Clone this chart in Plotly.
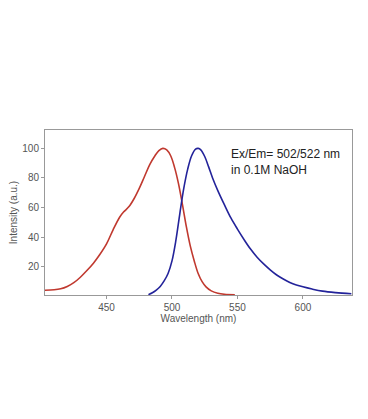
import plotly.graph_objects as go

ex_wl = [403, 410, 415, 420, 425, 430, 435, 440, 445, 450, 455, 460, 463, 467, 471, 475, 479, 483, 487, 490, 493, 496, 499, 502, 505, 508, 511, 514, 517, 520, 523, 526, 530, 535, 540, 548]
ex_int = [4.2, 4.5, 5.2, 6.8, 9.3, 13, 17.5, 22.5, 28.5, 35.5, 45, 53.5, 57, 60.5, 66, 73, 81, 89, 95, 98.5, 100, 99, 95, 87, 76, 62, 47, 34, 24, 15.5, 10, 6.5, 3.8, 2.2, 1.5, 1.2]

em_wl = [482, 485, 488, 491, 494, 497, 500, 503, 506, 509, 512, 515, 518, 520, 522, 525, 528, 531, 535, 540, 545, 550, 555, 560, 565, 570, 575, 580, 585, 590, 595, 600, 607, 615, 625, 637]
em_int = [1.2, 2.5, 4.3, 6.8, 10.5, 15.5, 24, 38, 56, 73, 86, 95, 99.5, 100, 99, 94.5, 87.5, 80, 71.5, 62, 53, 45.5, 38.5, 32, 26.5, 22, 18, 14.5, 11.8, 9.5, 7.8, 6.5, 5, 3.6, 2.6, 1.8]

x_ticks = [450, 500, 550, 600]
y_ticks = [20, 40, 60, 80, 100]

FONT = "Arial, Liberation Sans, sans-serif"

fig = go.Figure()
fig.add_trace(go.Scatter(x=ex_wl, y=ex_int, mode="lines",
                         line=dict(color="#c0392f", width=1.6, shape="spline", smoothing=1.0), showlegend=False))
fig.add_trace(go.Scatter(x=em_wl, y=em_int, mode="lines",
                         line=dict(color="#23239a", width=1.6, shape="spline", smoothing=1.0), showlegend=False))

fig.add_annotation(x=0.6, y=0.91, xref="paper", yref="paper", xanchor="left", yanchor="top",
                   text="Ex/Em= 502/522 nm<br>in 0.1M NaOH", showarrow=False, align="left",
                   font=dict(family=FONT, size=12, color="#222"))

axis_common = dict(showline=True, linecolor="#999", linewidth=1, mirror=True, showgrid=False, zeroline=False,
                   ticks="outside", ticklen=3, tickcolor="#999", automargin=False,
                   tickfont=dict(family=FONT, size=10, color="#555"))
fig.update_xaxes(range=[403, 637.5], tickvals=x_ticks,
                 title=dict(text="Wavelength (nm)", font=dict(family=FONT, size=10, color="#555"), standoff=2),
                 **axis_common)
fig.update_yaxes(range=[1, 112.4], tickvals=y_ticks,
                 title=dict(text="Intensity (a.u.)", font=dict(family=FONT, size=10, color="#555"), standoff=4),
                 **axis_common)

fig.update_layout(width=360, height=411, margin=dict(l=37, r=16, t=122, b=124),
                  paper_bgcolor="white", plot_bgcolor="white")
fig.write_html("out.html")
